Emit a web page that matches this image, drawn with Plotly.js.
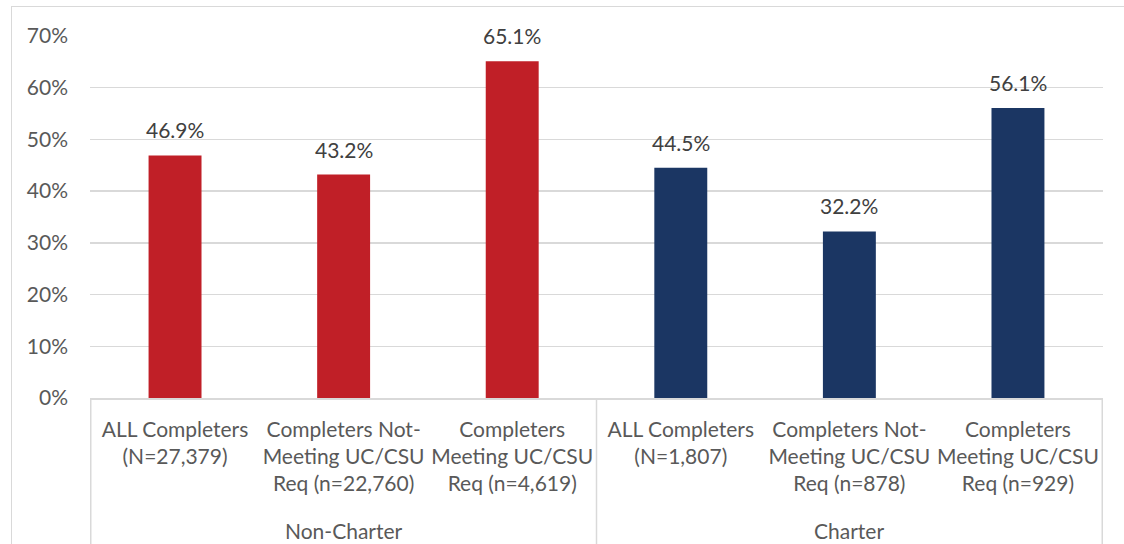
<!DOCTYPE html>
<html>
<head>
<meta charset="utf-8">
<script src="https://cdn.plot.ly/plotly-3.0.1.min.js"></script>
<style>
  html, body { margin: 0; padding: 0; overflow: hidden; background: #fff; }
  #frame { position: absolute; left: 11px; top: 6px; width: 1300px; height: 700px; border: 1.5px solid #d9d9d9; }
  #chart { position: absolute; left: 0; top: 0; width: 1124px; height: 544px; }
</style>
</head>
<body>
<div id="frame"></div>
<div id="chart"></div>
<script>
const groupNames = ["Non-Charter", "Charter"];
const groupOf = [0, 0, 0, 1, 1, 1];
const categories = [
  "ALL Completers<br>(N=27,379)",
  "Completers Not-<br>Meeting UC/CSU<br>Req (n=22,760)",
  "Completers<br>Meeting UC/CSU<br>Req (n=4,619)",
  "ALL Completers<br>(N=1,807)",
  "Completers Not-<br>Meeting UC/CSU<br>Req (n=878)",
  "Completers<br>Meeting UC/CSU<br>Req (n=929)"
];
const values = [0.469, 0.432, 0.651, 0.445, 0.322, 0.561];
const labels = ["46.9%", "43.2%", "65.1%", "44.5%", "32.2%", "56.1%"];
const barColors = ["#C01F27", "#C01F27", "#C01F27", "#1B3663", "#1B3663", "#1B3663"];
const yTicks = [0, 0.1, 0.2, 0.3, 0.4, 0.5, 0.6, 0.7];
const yTickLabels = ["0%", "10%", "20%", "30%", "40%", "50%", "60%", "70%"];

const FONT = "Lato, 'Liberation Sans', sans-serif";
const GRAY = "#d9d9d9";

const trace = {
  type: "bar",
  x: categories,
  y: values,
  marker: { color: barColors },
  hoverinfo: "skip"
};

// data labels above bars
const annotations = values.map((v, i) => ({
  x: categories[i],
  y: v,
  xref: "x",
  yref: "y",
  text: labels[i],
  showarrow: false,
  yanchor: "bottom",
  yshift: 11,
  font: { family: FONT, size: 21, color: "#404040" }
}));

// group labels (outer category level), centred under each group
groupNames.forEach((g, gi) => {
  const idx = groupOf.map((v, i) => v === gi ? i : -1).filter(i => i >= 0);
  const mid = (idx[0] + idx[idx.length - 1]) / 2;
  annotations.push({
    x: mid,
    y: -0.365,
    xref: "x",
    yref: "paper",
    text: g,
    showarrow: false,
    yanchor: "middle",
    font: { family: FONT, size: 21, color: "#595959" }
  });
});

// group dividers at group boundaries (and outer edges)
const bounds = [-0.5];
for (let i = 1; i < groupOf.length; i++) if (groupOf[i] !== groupOf[i - 1]) bounds.push(i - 0.5);
bounds.push(groupOf.length - 0.5);
const shapes = bounds.map(b => ({
  type: "line",
  xref: "x",
  yref: "paper",
  x0: b, x1: b,
  y0: 0, y1: -0.45,
  line: { color: GRAY, width: 1.5 }
}));

const layout = {
  width: 1124,
  height: 544,
  margin: { l: 90, r: 21, t: 36, b: 146 },
  paper_bgcolor: "rgba(0,0,0,0)",
  plot_bgcolor: "rgba(0,0,0,0)",
  bargap: 0.686,
  showlegend: false,
  font: { family: FONT, size: 21, color: "#595959" },
  xaxis: {
    type: "category",
    tickangle: 0,
    showline: true,
    linecolor: GRAY,
    linewidth: 1.5,
    ticks: "",
    ticklabelstandoff: 12,
    tickfont: { family: FONT, size: 21, color: "#595959" },
    showgrid: false,
    zeroline: false
  },
  yaxis: {
    range: [0, 0.7],
    tickvals: yTicks,
    ticktext: yTickLabels,
    showgrid: true,
    gridcolor: GRAY,
    gridwidth: 1.5,
    zeroline: false,
    showline: false,
    ticks: "",
    ticklabelstandoff: 21,
    tickfont: { family: FONT, size: 21, color: "#595959" }
  },
  annotations: annotations,
  shapes: shapes
};

Plotly.newPlot("chart", [trace], layout, { displayModeBar: false, staticPlot: true });
</script>
</body>
</html>
